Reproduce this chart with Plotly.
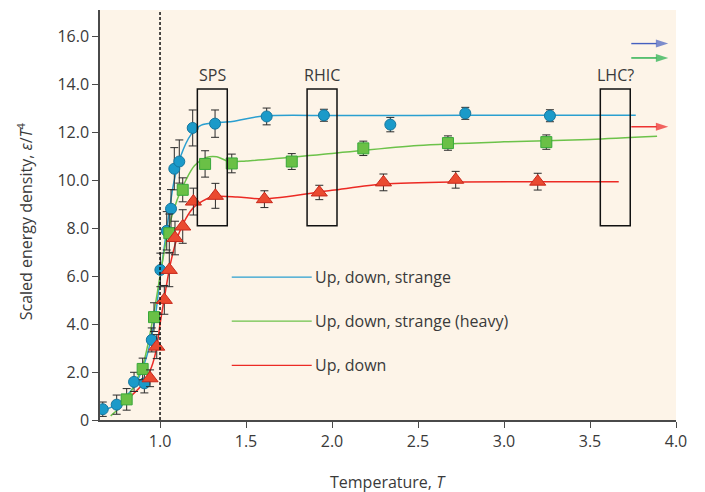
import plotly.graph_objects as go

# ---- data ----
blue_T = [0.667, 0.748, 0.849, 0.909, 0.952, 1.002, 1.039, 1.064, 1.083, 1.112, 1.19, 1.32, 1.62, 1.953, 2.339, 2.775, 3.267]
blue_e = [0.45, 0.64, 1.59, 1.53, 3.34, 6.26, 7.89, 8.81, 10.48, 10.78, 12.18, 12.36, 12.66, 12.71, 12.32, 12.79, 12.69]
blue_err = [0.3, 0.4, 0.4, 0.4, 0.5, 0.7, 0.8, 0.8, 0.88, 0.9, 0.75, 0.57, 0.35, 0.25, 0.3, 0.25, 0.25]

green_T = [0.806, 0.899, 0.965, 1.054, 1.132, 1.262, 1.417, 1.766, 2.182, 2.674, 3.246]
green_e = [0.86, 2.13, 4.29, 7.79, 9.60, 10.68, 10.70, 10.78, 11.33, 11.55, 11.59]
green_err = [0.45, 0.45, 0.6, 0.8, 0.5, 0.55, 0.39, 0.33, 0.3, 0.3, 0.3]

red_T = [0.942, 0.981, 1.025, 1.054, 1.087, 1.132, 1.194, 1.322, 1.607, 1.926, 2.299, 2.719, 3.196]
red_e = [1.74, 3.06, 5.01, 6.26, 7.59, 8.07, 9.11, 9.35, 9.21, 9.49, 9.91, 10.02, 9.94]
red_err = [0.35, 0.5, 0.6, 0.7, 0.7, 0.7, 0.56, 0.52, 0.35, 0.3, 0.35, 0.35, 0.35]

# fitted curves
blue_curve_T = [0.667, 0.75, 0.85, 0.92, 0.97, 1.0, 1.04, 1.08, 1.12, 1.18, 1.24, 1.32, 1.42, 1.6, 2.0, 2.5, 3.0, 3.766]
blue_curve_e = [0.4, 0.65, 1.4, 2.6, 4.2, 5.9, 8.0, 9.9, 11.0, 11.9, 12.3, 12.4, 12.45, 12.68, 12.7, 12.7, 12.71, 12.71]
green_curve_T = [0.713, 0.8, 0.9, 0.96, 1.0, 1.05, 1.1, 1.15, 1.2, 1.27, 1.33, 1.4, 1.5, 2.0, 2.5, 3.0, 3.5, 3.89]
green_curve_e = [0.17, 0.8, 2.3, 4.3, 6.0, 8.0, 9.2, 10.0, 10.6, 10.95, 10.98, 10.78, 10.8, 11.12, 11.45, 11.6, 11.7, 11.83]
red_curve_T = [0.8, 0.9, 0.95, 0.98, 1.0, 1.03, 1.06, 1.1, 1.15, 1.2, 1.3, 1.45, 1.6, 2.0, 2.3, 2.7, 3.2, 3.667]
red_curve_e = [0.8, 1.5, 2.2, 3.0, 4.0, 5.3, 6.5, 7.6, 8.4, 8.9, 9.3, 9.3, 9.22, 9.58, 9.84, 9.93, 9.94, 9.94]

# collider windows
box_names = ["SPS", "RHIC", "LHC?"]
box_T0 = [1.217, 1.855, 3.56]
box_T1 = [1.391, 2.029, 3.734]
box_e0 = 8.1
box_e1 = 13.81

series_names = ["Up, down, strange", "Up, down, strange (heavy)", "Up, down"]
legend_e = [5.96, 4.12, 2.28]
arrow_e = [15.7, 15.1, 12.23]
arrow_T = [3.74, 3.955]

x_ticks = [1.0, 1.5, 2.0, 2.5, 3.0, 3.5, 4.0]
x_ticktext = ["1.0", "1.5", "2.0", "2.5", "3.0", "3.5", "4.0"]
y_ticks = [0, 2, 4, 6, 8, 10, 12, 14, 16]
y_ticktext = ["0", "2.0", "4.0", "6.0", "8.0", "10.0", "12.0", "14.0", "16.0"]

# ---- style ----
line_cols = ["#2a9fd0", "#6cc24a", "#ec2a24"]
fill_cols = ["#1b9ac9", "#6ac046", "#ea4a30"]
edge_cols = ["#14769e", "#38a83a", "#c8281c"]
arrow_cols = ["#4560c0", "#1fae48", "#ec2424"]
FONT = "Open Sans"
TXT = "#3a3a3a"
FS = 16

fig = go.Figure()

# curves
for T, e, c in [(blue_curve_T, blue_curve_e, line_cols[0]),
                 (green_curve_T, green_curve_e, line_cols[1]),
                 (red_curve_T, red_curve_e, line_cols[2])]:
    fig.add_trace(go.Scatter(x=T, y=e, mode="lines", line=dict(color=c, width=1.5, shape="spline", smoothing=0.8),
                             hoverinfo="skip", showlegend=False))

# dashed Tc line
fig.add_shape(type="line", x0=1.0, x1=1.0, y0=0, y1=17.1, xref="x", yref="y",
              line=dict(color="#111111", width=1.5, dash="3px,2px"))

# boxes
for name, t0, t1 in zip(box_names, box_T0, box_T1):
    fig.add_shape(type="rect", x0=t0, x1=t1, y0=box_e0, y1=box_e1, xref="x", yref="y",
                  line=dict(color="#111111", width=1.5), fillcolor="rgba(0,0,0,0)")
    fig.add_annotation(x=(t0 + t1) / 2, y=box_e1, text=name, showarrow=False, yanchor="bottom", yshift=1,
                       font=dict(family=FONT, size=FS, color=TXT))

# markers
sets = [(blue_T, blue_e, blue_err, "circle", 11),
        (green_T, green_e, green_err, "square", 11),
        (red_T, red_e, red_err, "triangle-up", 14)]
for i, (T, e, err, sym, sz) in enumerate(sets):
    fig.add_trace(go.Scatter(x=T, y=e, mode="markers",
                             marker=dict(symbol=sym, size=sz, color=fill_cols[i], line=dict(color=edge_cols[i], width=1)),
                             error_y=dict(type="data", array=err, visible=True, color="#2a2a2a", thickness=1, width=4),
                             showlegend=False, name=series_names[i]))

# in-plot legend
for i, name in enumerate(series_names):
    fig.add_trace(go.Scatter(x=[1.417, 1.882], y=[legend_e[i]] * 2, mode="lines",
                             line=dict(color=line_cols[i], width=1.3), showlegend=False, hoverinfo="skip"))
    fig.add_annotation(x=1.89, y=legend_e[i], text=name, showarrow=False, xanchor="left",
                       font=dict(family=FONT, size=FS, color=TXT))

# arrows at right
for i in range(3):
    fig.add_trace(go.Scatter(x=arrow_T, y=[arrow_e[i]] * 2, mode="lines+markers",
                             line=dict(color=arrow_cols[i], width=1.4),
                             marker=dict(symbol="arrow", angleref="previous", size=[0, 13], color=arrow_cols[i],
                                         line=dict(width=0)),
                             showlegend=False, hoverinfo="skip"))

# axis titles
fig.add_annotation(x=0.5, y=-0.151, xref="paper", yref="paper", text="Temperature, <i>T</i>", showarrow=False,
                   xanchor="center", yanchor="middle", font=dict(family=FONT, size=FS, color=TXT))
fig.add_annotation(x=-0.130, y=0.485, xref="paper", yref="paper", text="Scaled energy density, <i>ε</i>/<i>T</i><sup>4</sup>",
                   showarrow=False, textangle=-90, xanchor="center", yanchor="middle",
                   font=dict(family=FONT, size=FS, color=TXT))

fig.update_layout(
    width=705, height=492,
    margin=dict(l=92, r=37, t=2, b=80),
    paper_bgcolor="white", plot_bgcolor="#fdf4e8",
    font=dict(family=FONT, size=FS, color=TXT),
    xaxis=dict(range=[0.651, 4.0], tickvals=x_ticks, ticktext=x_ticktext, showgrid=False, zeroline=False,
               showline=True, linecolor="#4a4a4a", linewidth=1.5, ticks="outside", ticklen=6, tickcolor="#4a4a4a",
               tickfont=dict(family=FONT, size=FS, color=TXT)),
    yaxis=dict(range=[0, 17.1], tickvals=y_ticks, ticktext=y_ticktext, showgrid=False, zeroline=False,
               showline=True, linecolor="#4a4a4a", linewidth=1.5, ticks="outside", ticklen=6, tickcolor="#4a4a4a",
               tickfont=dict(family=FONT, size=FS, color=TXT)),
)

fig.write_html("out.html")
